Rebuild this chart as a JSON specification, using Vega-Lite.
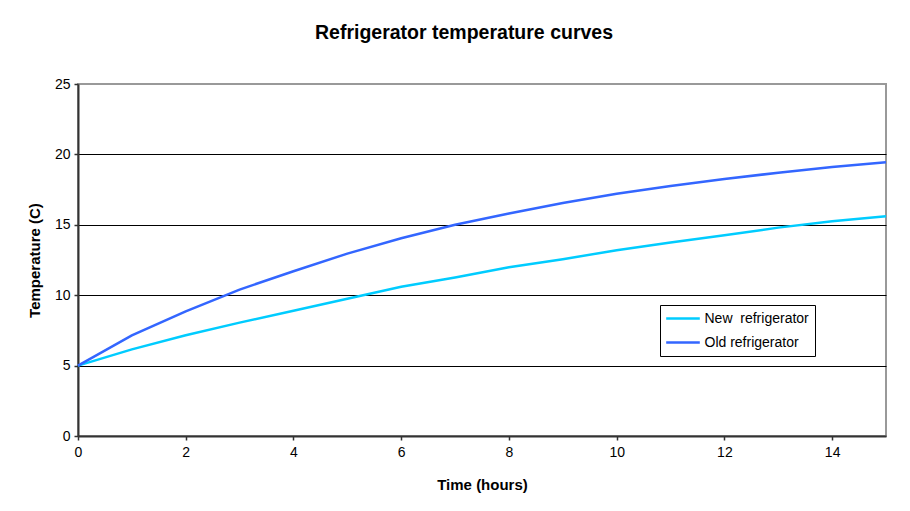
{
  "$schema": "https://vega.github.io/schema/vega-lite/v6.json",
  "autosize": "none",
  "width": 808,
  "height": 352,
  "padding": {"left": 78, "top": 84, "right": 24, "bottom": 75},
  "background": "white",
  "title": {
    "text": "Refrigerator temperature curves",
    "font": "Liberation Sans",
    "fontSize": 19.5,
    "fontWeight": "bold",
    "color": "black",
    "anchor": "middle",
    "baseline": "alphabetic",
    "offset": 19,
    "dx": -18
  },
  "config": {
    "view": {"stroke": "#999999", "strokeWidth": 2},
    "font": "Liberation Sans"
  },
  "data": {
    "values": [
      {"hours": 0, "series": "New\u00a0 refrigerator", "temp": 5},
      {"hours": 1, "series": "New\u00a0 refrigerator", "temp": 6.15},
      {"hours": 2, "series": "New\u00a0 refrigerator", "temp": 7.15},
      {"hours": 3, "series": "New\u00a0 refrigerator", "temp": 8.05},
      {"hours": 4, "series": "New\u00a0 refrigerator", "temp": 8.9},
      {"hours": 5, "series": "New\u00a0 refrigerator", "temp": 9.75},
      {"hours": 6, "series": "New\u00a0 refrigerator", "temp": 10.6},
      {"hours": 7, "series": "New\u00a0 refrigerator", "temp": 11.25},
      {"hours": 8, "series": "New\u00a0 refrigerator", "temp": 11.98},
      {"hours": 9, "series": "New\u00a0 refrigerator", "temp": 12.55},
      {"hours": 10, "series": "New\u00a0 refrigerator", "temp": 13.2},
      {"hours": 11, "series": "New\u00a0 refrigerator", "temp": 13.75},
      {"hours": 12, "series": "New\u00a0 refrigerator", "temp": 14.25},
      {"hours": 13, "series": "New\u00a0 refrigerator", "temp": 14.8},
      {"hours": 14, "series": "New\u00a0 refrigerator", "temp": 15.25},
      {"hours": 15, "series": "New\u00a0 refrigerator", "temp": 15.6},
      {"hours": 0, "series": "Old refrigerator", "temp": 5},
      {"hours": 1, "series": "Old refrigerator", "temp": 7.15},
      {"hours": 2, "series": "Old refrigerator", "temp": 8.85},
      {"hours": 3, "series": "Old refrigerator", "temp": 10.4},
      {"hours": 4, "series": "Old refrigerator", "temp": 11.7},
      {"hours": 5, "series": "Old refrigerator", "temp": 12.95},
      {"hours": 6, "series": "Old refrigerator", "temp": 14.05},
      {"hours": 7, "series": "Old refrigerator", "temp": 15.0},
      {"hours": 8, "series": "Old refrigerator", "temp": 15.8},
      {"hours": 9, "series": "Old refrigerator", "temp": 16.55},
      {"hours": 10, "series": "Old refrigerator", "temp": 17.2},
      {"hours": 11, "series": "Old refrigerator", "temp": 17.75},
      {"hours": 12, "series": "Old refrigerator", "temp": 18.25},
      {"hours": 13, "series": "Old refrigerator", "temp": 18.7},
      {"hours": 14, "series": "Old refrigerator", "temp": 19.1},
      {"hours": 15, "series": "Old refrigerator", "temp": 19.45}
    ]
  },
  "mark": {"type": "line", "strokeWidth": 2.5},
  "encoding": {
    "x": {
      "field": "hours",
      "type": "quantitative",
      "scale": {"domain": [0, 15], "nice": false, "zero": true},
      "axis": {
        "title": "Time (hours)",
        "values": [0, 2, 4, 6, 8, 10, 12, 14],
        "grid": false,
        "domainColor": "#333333",
        "domainWidth": 2,
        "tickColor": "#333333",
        "tickSize": 4,
        "tickWidth": 1.5,
        "labelFont": "Liberation Sans",
        "labelFontSize": 14,
        "labelColor": "black",
        "labelPadding": 5,
        "labelFlush": false,
        "titleFont": "Liberation Sans",
        "titleFontSize": 15,
        "titleFontWeight": "bold",
        "titleColor": "black",
        "titlePadding": 18
      }
    },
    "y": {
      "field": "temp",
      "type": "quantitative",
      "scale": {"domain": [0, 25], "nice": false},
      "axis": {
        "title": "Temperature (C)",
        "values": [0, 5, 10, 15, 20, 25],
        "grid": true,
        "gridColor": {"condition": {"test": "datum.value == 25 || datum.value == 0", "value": "#999999"}, "value": "black"},
        "gridWidth": 1,
        "domainColor": "#333333",
        "domainWidth": 2,
        "tickColor": "#333333",
        "tickSize": 4,
        "tickWidth": 1.5,
        "labelFont": "Liberation Sans",
        "labelFontSize": 14,
        "labelColor": "black",
        "labelPadding": 4,
        "labelFlush": false,
        "titleFont": "Liberation Sans",
        "titleFontSize": 15,
        "titleFontWeight": "bold",
        "titleColor": "black",
        "titlePadding": 12
      }
    },
    "color": {
      "field": "series",
      "type": "nominal",
      "sort": ["New\u00a0 refrigerator", "Old refrigerator"],
      "scale": {"domain": ["New\u00a0 refrigerator", "Old refrigerator"], "range": ["#00CCFF", "#3366FF"]},
      "legend": {
        "title": null,
        "orient": "none",
        "legendX": 582,
        "legendY": 221,
        "direction": "vertical",
        "fillColor": "white",
        "strokeColor": "black",
        "padding": 6,
        "symbolType": "M-2.8,0H2.8",
        "symbolSize": 144,
        "symbolStrokeWidth": 2.5,
        "symbolOffset": 9.5,
        "rowPadding": 9,
        "labelFont": "Liberation Sans",
        "labelFontSize": 14,
        "labelColor": "black",
        "labelOffset": 14,
        "labelLimit": 200
      }
    }
  }
}
